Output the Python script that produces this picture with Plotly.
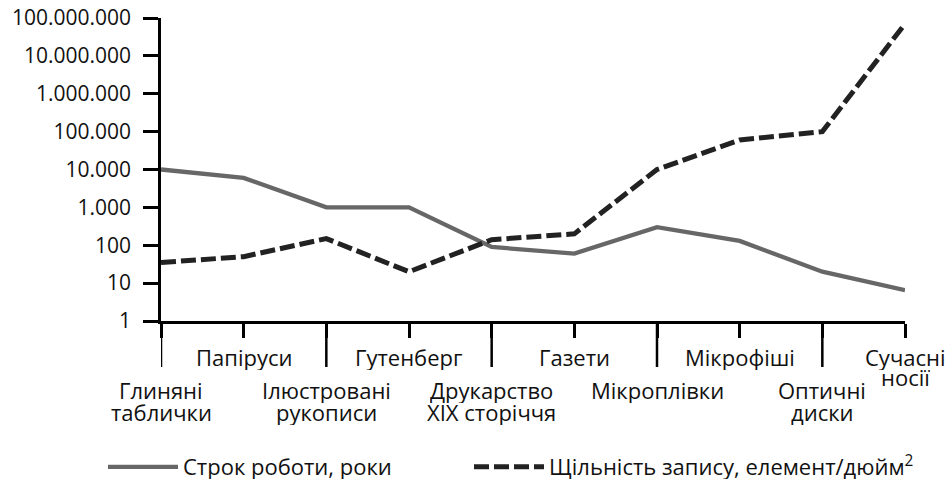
import plotly.graph_objects as go

categories = ["Глиняні\nтаблички", "Папіруси", "Ілюстровані\nрукописи", "Гутенберг",
              "Друкарство\nXIX сторіччя", "Газети", "Мікроплівки", "Мікрофіші",
              "Оптичні\nдиски", "Сучасні\nносії"]
lifetime_years = [10000, 6000, 1000, 1000, 90, 60, 300, 130, 20, 6.5]
density_per_sq_inch = [35, 50, 150, 20, 140, 200, 10000, 60000, 100000, 70000000]
y_tick_values = [1, 10, 100, 1000, 10000, 100000, 1000000, 10000000, 100000000]
y_tick_labels = ["1", "10", "100", "1.000", "10.000", "100.000", "1.000.000",
                 "10.000.000", "100.000.000"]
series_names = ["Строк роботи, роки", "Щільність запису, елемент/дюйм<sup>2</sup>"]

FONT = "Open Sans"
FS_TICK = 21
FS = 22
W, H = 946, 479
PLOT_LEFT, PLOT_TOP, PLOT_W, PLOT_H = 161, 18, 744, 303
TXT = "#111111"

idx = list(range(len(categories)))

fig = go.Figure()
fig.add_trace(go.Scatter(x=idx, y=lifetime_years, mode="lines", name=series_names[0],
                         line=dict(color="#676767", width=4.3), legend="legend"))
fig.add_trace(go.Scatter(x=idx, y=density_per_sq_inch, mode="lines", name=series_names[1],
                         line=dict(color="#222222", width=5, dash="15px,5px"),
                         legend="legend2"))

shapes = []
annotations = []
for i, lab in enumerate(categories):
    if i % 2 == 0:
        shapes.append(dict(type="line", xref="x", yref="paper", x0=i, x1=i,
                           y0=0, y1=-46 / PLOT_H, line=dict(color="black", width=2.5)))
        base, step = 69, 22
    else:
        base, step = 36, 20
    for j, line in enumerate(lab.split("\n")):
        annotations.append(dict(x=i, xref="x", y=0, yref="paper", text=line,
                                showarrow=False, yanchor="middle", xanchor="center",
                                yshift=-(base + j * step), height=26,
                                font=dict(family=FONT, size=FS, color=TXT)))

legend_common = dict(orientation="h", xanchor="left", y=-146 / PLOT_H, yanchor="middle",
                     itemwidth=70, font=dict(family=FONT, size=FS, color=TXT),
                     bgcolor="rgba(0,0,0,0)")

mr = W - PLOT_LEFT - PLOT_W
mb = H - PLOT_TOP - PLOT_H

fig.update_layout(
    width=W, height=H,
    margin=dict(l=PLOT_LEFT, r=mr, t=PLOT_TOP, b=mb, autoexpand=False),
    paper_bgcolor="white", plot_bgcolor="white",
    font=dict(family=FONT, size=FS, color=TXT),
    showlegend=True,
    legend=dict(x=(103 - PLOT_LEFT) / PLOT_W, **legend_common),
    legend2=dict(x=(469 - PLOT_LEFT) / PLOT_W, **legend_common),
    shapes=shapes,
    annotations=annotations,
)
fig.update_xaxes(range=[0, len(categories) - 1], showgrid=False, zeroline=False,
                 showline=True, linecolor="black", linewidth=2.5,
                 tickmode="array", tickvals=idx, showticklabels=False,
                 ticks="outside", ticklen=14, tickwidth=2.5, tickcolor="black")
fig.update_yaxes(type="log", range=[0, 8], showgrid=False, zeroline=False,
                 showline=True, linecolor="black", linewidth=2.5,
                 tickmode="array", tickvals=y_tick_values, ticktext=y_tick_labels,
                 ticks="outside", ticklen=15, tickwidth=2.5, tickcolor="black",
                 ticklabelstandoff=8, ticklabeloverflow="allow",
                 tickfont=dict(family=FONT, size=FS_TICK, color=TXT))

fig.write_html("out.html", config={"displayModeBar": False},
               post_script="document.body.style.margin='0';document.body.style.overflow='hidden';")
